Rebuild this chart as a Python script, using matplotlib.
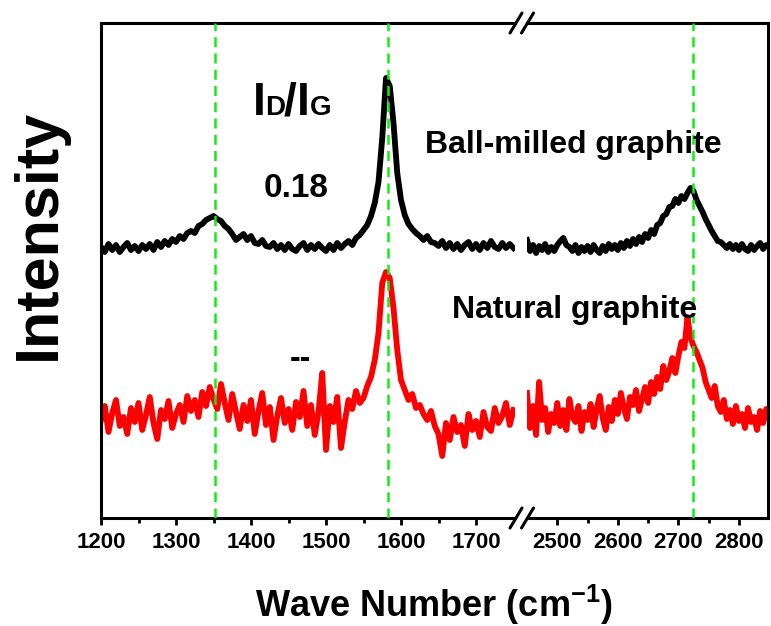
import numpy as np
import matplotlib.pyplot as plt
from matplotlib.lines import Line2D

plt.rcParams['font.family'] = ['Liberation Sans', 'DejaVu Sans']
plt.rcParams['font.weight'] = 'bold'
plt.rcParams['mathtext.fontset'] = 'custom'
plt.rcParams['mathtext.rm'] = 'Liberation Sans:bold'
plt.rcParams['mathtext.bf'] = 'Liberation Sans:bold'

# wave numbers (cm-1), both sides of the axis break
wn_low = np.arange(1200, 1751, 5)
wn_high = np.arange(2450, 2851, 5)

# intensities (arbitrary units, already offset)
ball_low = [271, 266, 274, 268, 273, 266, 271, 275, 268, 272,
            267, 273, 269, 274, 268, 276, 271, 277, 273, 279,
            276, 282, 279, 285, 287, 285, 292, 294, 298, 300,
            302, 299, 297, 292, 289, 284, 278, 281, 284, 278,
            282, 275, 274, 278, 272, 271, 275, 269, 273, 268,
            274, 269, 267, 272, 275, 268, 273, 269, 274, 270,
            267, 273, 268, 275, 270, 274, 277, 273, 280, 283,
            288, 293, 302, 315, 336, 380, 440, 432, 395, 345,
            318, 303, 294, 289, 285, 282, 278, 282, 276, 275,
            272, 277, 270, 275, 269, 274, 268, 273, 276, 269,
            274, 268, 275, 270, 277, 271, 269, 275, 270, 274,
            270]
ball_high = [278, 267, 273, 265, 272, 268, 274, 266, 271, 267,
             273, 277, 280, 273, 271, 267, 273, 265, 271, 267,
             272, 266, 273, 268, 265, 272, 267, 274, 269, 273,
             268, 275, 270, 277, 272, 279, 274, 281, 276, 284,
             280, 288, 284, 293, 295, 302, 304, 311, 312, 319,
             315, 322, 319, 325, 330, 327, 318, 312, 306, 299,
             293, 287, 282, 277, 276, 273, 270, 274, 269, 273,
             268, 274, 269, 267, 273, 268, 272, 275, 269, 273,
             271]
natural_low = [98, 112, 86, 105, 118, 92, 101, 84, 110, 96,
               115, 88, 103, 121, 95, 79, 108, 99, 117, 90,
               104, 113, 96, 122, 107, 118, 101, 126, 112, 131,
               119, 109, 134, 115, 98, 124, 106, 89, 113, 97,
               118, 84, 107, 125, 93, 111, 78, 102, 120, 95,
               109, 88, 116, 101, 127, 92, 113, 83, 106, 145,
               68, 112, 96, 121, 70, 96, 118, 109, 127, 115,
               120, 132, 141, 158, 185, 235, 246, 240, 210, 168,
               138, 128, 118, 124, 110, 113, 104, 98, 107, 92,
               84, 62, 95, 78, 101, 86, 93, 72, 104, 88,
               97, 81, 106, 91, 87, 110, 95, 102, 115, 93,
               108]
natural_high = [125, 90, 112, 83, 136, 98, 110, 86, 104, 95,
                115, 92, 108, 88, 119, 101, 96, 112, 87, 106,
                98, 114, 91, 109, 122, 100, 88, 111, 97, 118,
                104, 125, 110, 99, 121, 113, 128, 107, 119, 131,
                115, 136, 124, 141, 129, 152, 138, 147, 160, 145,
                162, 176, 170, 201, 180, 172, 166, 158, 150, 136,
                128, 120, 132, 112, 106, 118, 99, 108, 94, 112,
                97, 104, 90, 110, 96, 101, 88, 107, 95, 109,
                100]

peak_positions = [1352, 1582, 2724]
ticks_low = [1200, 1300, 1400, 1500, 1600, 1700]
ticks_high = [2500, 2600, 2700, 2800]

W, H = 771, 626


def box(x0, y0, x1, y1):
    return [x0 / W, 1 - y1 / H, (x1 - x0) / W, (y1 - y0) / H]


def ftext(x, y, s, **kw):
    fig.text(x / W, 1 - y / H, s, **kw)


fig = plt.figure(figsize=(W / 100, H / 100), dpi=100)
ax1 = fig.add_axes(box(101, 23, 515, 518))
ax2 = fig.add_axes(box(527, 23, 768, 518))

for ax, wn, ball, nat, lim, ticks, minor in [
        (ax1, wn_low, ball_low, natural_low, (1200, 1752), ticks_low, [1250, 1350, 1450, 1550, 1650]),
        (ax2, wn_high, ball_high, natural_high, (2450, 2848), ticks_high, [2550, 2650, 2750])]:
    ax.plot(wn, ball, color='black', lw=4.2)
    ax.plot(wn, nat, color='#ff0000', lw=4.2)
    for p in peak_positions:
        if lim[0] < p < lim[1]:
            ax.axvline(p, color='#11ee11', lw=1.8, ls=(0, (4, 2.5)), zorder=5)
    ax.set_xlim(*lim)
    ax.set_ylim(0, 495)
    ax.set_yticks([])
    ax.set_xticks(ticks)
    ax.set_xticks(minor, minor=True)
    ax.tick_params(axis='x', which='major', direction='out', length=5, width=2,
                   labelsize=16, pad=5)
    ax.tick_params(axis='x', which='minor', direction='out', length=3.5, width=2)
    for lab in ax.get_xticklabels():
        lab.set_fontweight('bold')
    for s in ax.spines.values():
        s.set_linewidth(2.2)

ax1.spines['right'].set_visible(False)
ax2.spines['left'].set_visible(False)

# break marks
for y in (23, 518):
    for cx in (516, 527.5):
        fig.add_artist(Line2D([(cx - 6) / W, (cx + 6) / W], [1 - (y + 10) / H, 1 - (y - 10) / H],
                              transform=fig.transFigure, color='black', lw=2.2,
                              solid_capstyle='round'))

# I_D/I_G label
for s, x, size in [('I', 253, 33), ('D', 265.5, 20), ('/', 284, 33), ('I', 296.5, 33), ('G', 309.5, 20)]:
    ftext(x, 115, s, fontsize=size, fontweight='bold', ha='left', va='baseline')
ftext(296, 197, '0.18', fontsize=24, fontweight='bold', ha='center', va='baseline')
ftext(300, 367, '--', fontsize=23, fontweight='bold', ha='center', va='baseline')
ftext(425, 153, 'Ball-milled graphite', fontsize=23, fontweight='bold', ha='left', va='baseline')
ftext(452, 318, 'Natural graphite', fontsize=23, fontweight='bold', ha='left', va='baseline')

ftext(434, 617, r'Wave Number (cm$^{\mathbf{-1}}$)', fontsize=26, fontweight='bold',
      ha='center', va='baseline')
ftext(39, 234, 'Intensity', fontsize=44, fontweight='bold', rotation=90, ha='center', va='center')

fig.savefig('out.png', dpi=100, facecolor='white')
